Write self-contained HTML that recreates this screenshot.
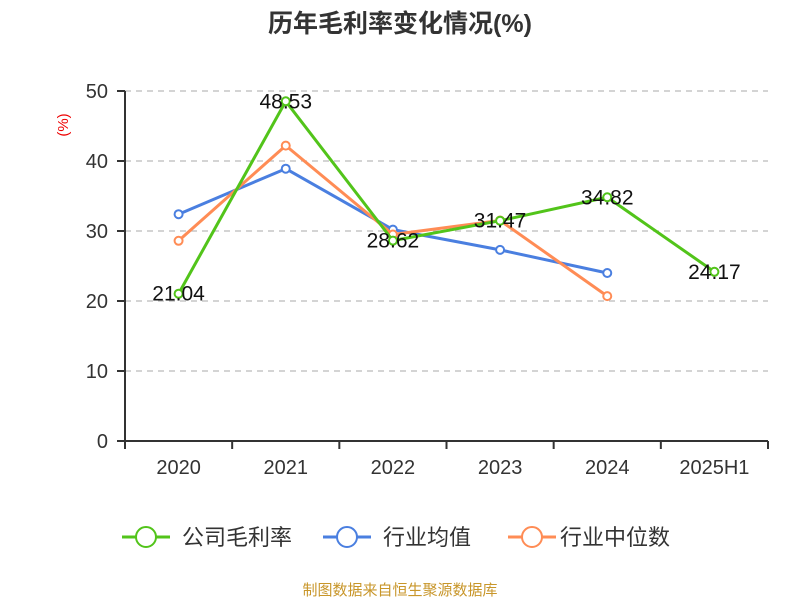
<!DOCTYPE html>
<html><head><meta charset="utf-8"><style>
body{margin:0;background:#fff;}
svg text{font-family:"Liberation Sans","Noto Sans CJK SC",sans-serif;}
</style></head><body>
<svg id="c" width="800" height="600" xmlns="http://www.w3.org/2000/svg">
<text x="400" y="32" text-anchor="middle" font-size="25" font-weight="bold" fill="#333">历年毛利率变化情况(%)</text>
<text transform="translate(68,125) rotate(-90)" text-anchor="middle" font-size="15" fill="#e00">(%)</text>
<g id="grid"></g><g id="axes"></g><g id="series"></g>
<g>
<g><line x1="122" y1="537" x2="170" y2="537" stroke="#52c41a" stroke-width="3"/><circle cx="146" cy="537" r="10" fill="#fff" stroke="#52c41a" stroke-width="2"/><text x="182" y="545" font-size="22" fill="#333">公司毛利率</text></g>
<g><line x1="323" y1="537" x2="371" y2="537" stroke="#4a7fe0" stroke-width="3"/><circle cx="347" cy="537" r="10" fill="#fff" stroke="#4a7fe0" stroke-width="2"/><text x="383" y="545" font-size="22" fill="#333">行业均值</text></g>
<g><line x1="508" y1="537" x2="556" y2="537" stroke="#ff8c55" stroke-width="3"/><circle cx="532" cy="537" r="10" fill="#fff" stroke="#ff8c55" stroke-width="2"/><text x="560" y="545" font-size="22" fill="#333">行业中位数</text></g>
</g>
<text x="400" y="595" text-anchor="middle" font-size="15" fill="#c8962a">制图数据来自恒生聚源数据库</text>
</svg>
<script>
const categories=["2020","2021","2022","2023","2024","2025H1"];
const company=[21.04,48.53,28.62,31.47,34.82,24.17];
const industryAvg=[32.4,38.9,30.2,27.3,24.0,null];
const industryMedian=[28.6,42.2,29.5,31.5,20.7,null];
const yTicks=[0,10,20,30,40,50];
const NS="http://www.w3.org/2000/svg";
const x0=125,x1=768,yb=441,yt=91;
const bw=(x1-x0)/categories.length;
const X=i=>x0+bw*(i+0.5);
const Y=v=>yb-(v/50)*(yb-yt);
function mk(t,a,p){const e=document.createElementNS(NS,t);for(const k in a)e.setAttribute(k,a[k]);p.appendChild(e);return e;}
const grid=document.getElementById('grid'),axes=document.getElementById('axes'),ser=document.getElementById('series');
yTicks.forEach(v=>{
 if(v>0){const g=mk('line',{x1:x0,x2:x1,y1:Y(v),y2:Y(v),stroke:'#bbb','stroke-width':1.2,'stroke-dasharray':'6,5'},grid);
 
 }
 const tk=mk('line',{x1:x0-8,x2:x0,y1:Y(v),y2:Y(v),stroke:'#333','stroke-width':2},axes);
 
 
 const t=mk('text',{x:x0-17,y:Y(v)+7,'text-anchor':'end','font-size':20,fill:'#333'},axes);t.textContent=v;
 
 
});
const ya=mk('line',{x1:x0,x2:x0,y1:yt,y2:yb,stroke:'#333','stroke-width':2},axes);


const xa=mk('line',{x1:x0,x2:x1,y1:yb,y2:yb,stroke:'#333','stroke-width':2},axes);


for(let i=0;i<=categories.length;i++){const l=mk('line',{x1:x0+bw*i,x2:x0+bw*i,y1:yb,y2:yb+8,stroke:'#333','stroke-width':2},axes);
 
 }
categories.forEach((c,i)=>{const t=mk('text',{x:X(i),y:474,'text-anchor':'middle','font-size':20,fill:'#333'},axes);t.textContent=c;
 
 });
function draw(d,col,name,labels){
 const pts=d.map((v,i)=>v==null?null:[X(i),Y(v)]).filter(p=>p);
 const pl=mk('polyline',{points:pts.map(p=>p.join(',')).join(' '),fill:'none',stroke:col,'stroke-width':3,'stroke-linejoin':'round'},ser);
 
 
 d.forEach((v,i)=>{if(v==null)return;
  const c=mk('circle',{cx:X(i),cy:Y(v),r:4,fill:'#fff',stroke:col,'stroke-width':2},ser);
  
  
 });
 if(labels)d.forEach((v,i)=>{const t=mk('text',{x:X(i),y:Y(v)+7,'text-anchor':'middle','font-size':21,fill:'#111'},ser);t.textContent=v.toFixed(2);
  
  });
}
draw(industryAvg,'#4a7fe0','industry-avg',false);
draw(industryMedian,'#ff8c55','industry-median',false);
draw(company,'#52c41a','company',true);
</script>
</body></html>
